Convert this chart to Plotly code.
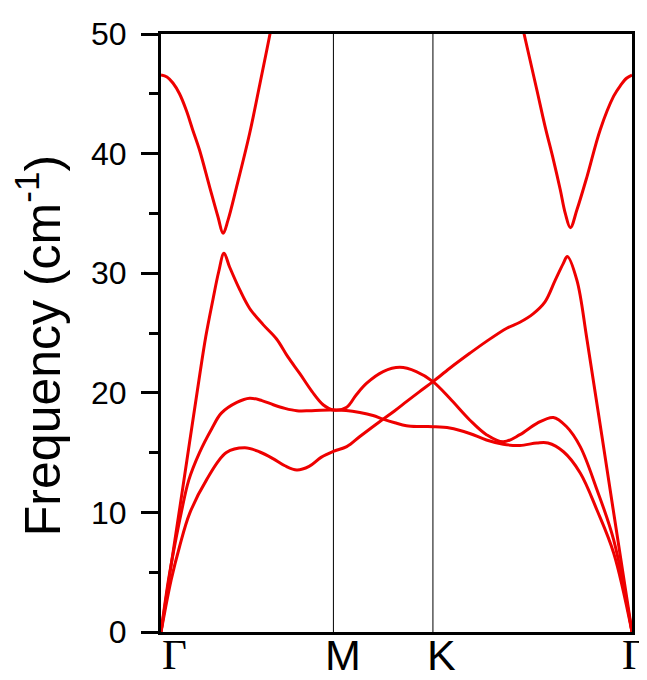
import plotly.graph_objects as go

# high-symmetry points (path coordinate)
kpoint_pos = [0.0, 0.5774, 0.9107, 1.5774]
kpoint_labels = ["Γ", "M", "K", "Γ"]
kpoint_fonts = ["Liberation Serif", "Liberation Sans", "Liberation Sans", "Liberation Serif"]

# phonon bands (path coordinate, frequency in cm^-1)
band1_q = [0, 0.012, 0.034, 0.062, 0.096, 0.152, 0.219, 0.281, 0.331, 0.375, 0.415, 0.455,
           0.496, 0.536, 0.5774, 0.622, 0.666, 0.706, 0.744, 0.783, 0.822, 0.866, 0.9107,
           0.967, 1.034, 1.090, 1.158, 1.202, 1.246, 1.286, 1.320, 1.347, 1.361, 1.393,
           1.427, 1.502, 1.5774]
band1_f = [0, 1.6, 4.35, 7.13, 9.92, 12.7, 15.0, 15.4, 15.05, 14.5, 13.9, 13.55,
           13.85, 14.6, 15.1, 15.5, 16.35, 17.1, 17.8, 18.5, 19.26, 20.1, 20.93,
           22.05, 23.3, 24.3, 25.4, 25.9, 26.6, 27.6, 29.4, 30.8, 31.4, 29.4,
           24.4, 12.25, 0]

band2_q = [0, 0.025, 0.045, 0.068, 0.093, 0.129, 0.170, 0.202, 0.254, 0.297, 0.338, 0.376,
           0.415, 0.455, 0.496, 0.536, 0.5774, 0.620, 0.666, 0.710, 0.744, 0.783, 0.822,
           0.866, 0.9107, 0.967, 1.034, 1.090, 1.146, 1.202, 1.259, 1.296, 1.348, 1.404,
           1.460, 1.516, 1.5774]
band2_f = [0, 4.35, 7.13, 10.0, 12.7, 15.0, 17.0, 18.3, 19.2, 19.55, 19.35, 19.0,
           18.7, 18.5, 18.5, 18.55, 18.56, 18.52, 18.35, 18.1, 17.8, 17.5, 17.25,
           17.18, 17.17, 17.06, 16.6, 16.05, 15.7, 15.6, 15.8, 15.8, 15.07, 13.3,
           10.2, 6.6, 0]

band3_q = [0, 0.063, 0.096, 0.127, 0.150, 0.174, 0.193, 0.211, 0.230, 0.264, 0.297, 0.342,
           0.387, 0.425, 0.465, 0.506, 0.544, 0.5774, 0.622, 0.653, 0.689, 0.744, 0.800,
           0.855, 0.9107, 0.967, 1.034, 1.090, 1.146, 1.202, 1.259, 1.314, 1.357, 1.404,
           1.460, 1.516, 1.5774]
band3_f = [0, 10.4, 15.9, 21.05, 24.7, 27.8, 30.1, 31.66, 30.5, 28.6, 27.05, 25.7,
           24.5, 23.0, 21.6, 20.1, 18.98, 18.56, 18.8, 19.8, 20.8, 21.77, 22.13,
           21.77, 20.93, 19.54, 17.73, 16.5, 15.9, 16.5, 17.45, 17.94, 17.2, 15.5,
           11.9, 7.7, 0]

band4a_q = [0, 0.020, 0.040, 0.062, 0.085, 0.106, 0.129, 0.163, 0.191, 0.208, 0.224, 0.253,
            0.297, 0.331, 0.365, 0.398]
band4a_f = [46.57, 46.4, 45.9, 45.0, 43.6, 42.0, 40.3, 37.2, 34.7, 33.33, 34.4, 37.2,
            41.7, 45.8, 50.0, 54.2]

band4b_q = [1.182, 1.216, 1.259, 1.286, 1.314, 1.337, 1.354, 1.371, 1.393, 1.427, 1.471,
            1.516, 1.539, 1.559, 1.5774]
band4b_f = [53.7, 50.0, 45.3, 42.3, 39.5, 37.0, 35.0, 33.8, 35.3, 38.1, 42.0,
            44.8, 45.7, 46.3, 46.57]

y_ticks = [0, 10, 20, 30, 40, 50]

RED = "#ee0000"
label_xshift = [13, 10, 9, 2]  # label offsets (px) right of each vertical position

fig = go.Figure()
for q, f in [(band1_q, band1_f), (band2_q, band2_f), (band3_q, band3_f),
             (band4a_q, band4a_f), (band4b_q, band4b_f)]:
    fig.add_trace(go.Scatter(x=q, y=f, mode="lines",
                             line=dict(color=RED, width=3, shape="spline", smoothing=1.0),
                             showlegend=False, hoverinfo="skip"))

# vertical lines at interior high-symmetry points
for xv in kpoint_pos[1:-1]:
    fig.add_shape(type="line", xref="x", yref="paper", x0=xv, x1=xv, y0=0, y1=1,
                  line=dict(color="black", width=1), layer="below")

annotations = []
for xv, lab, fam, sh in zip(kpoint_pos, kpoint_labels, kpoint_fonts, label_xshift):
    annotations.append(dict(text=lab, x=xv, xref="x", y=0, yref="paper",
                            xanchor="center", yanchor="top", xshift=sh, yshift=3,
                            showarrow=False,
                            font=dict(size=43, family=fam, color="black")))
annotations.append(dict(text="Frequency (cm<sup>-1</sup>)", textangle=-90, xref="paper", yref="paper",
                        x=-0.259, y=0.478, xanchor="center", yanchor="middle", showarrow=False,
                        font=dict(size=50, family="Liberation Sans, Arial", color="black")))

# page body has an 8px default margin, so the figure is sized to fill the rest of the window
fig.update_layout(
    width=639, height=672,
    margin=dict(l=153, r=15, t=26, b=48, autoexpand=False),
    paper_bgcolor="white", plot_bgcolor="white",
    font=dict(family="Liberation Sans, Arial", color="black"),
    xaxis=dict(range=[kpoint_pos[0], kpoint_pos[-1]], showticklabels=False,
               showgrid=False, zeroline=False, showline=True, mirror=True,
               linecolor="black", linewidth=3, ticks="", automargin=False),
    yaxis=dict(range=[0, 50], tickvals=y_ticks, showgrid=False, zeroline=False,
               showline=True, mirror=True, linecolor="black", linewidth=3,
               ticks="outside", ticklen=17, tickwidth=2.5, tickcolor="black",
               ticklabelstandoff=8, automargin=False,
               minor=dict(dtick=5, ticks="outside", ticklen=9, tickwidth=2.5, tickcolor="black",
                          showgrid=False),
               tickfont=dict(size=32, family="Liberation Sans, Arial")),
    annotations=annotations,
)

fig.write_html("out.html")
